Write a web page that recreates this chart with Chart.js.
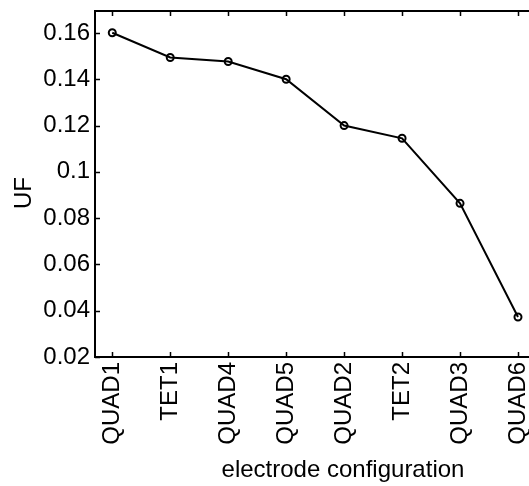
<!DOCTYPE html>
<html>
<head>
<meta charset="utf-8">
<script src="https://cdn.jsdelivr.net/npm/chart.js@4"></script>
<style>
  html, body { margin: 0; padding: 0; background: #fff; }
  #wrap { width: 529px; height: 486px; }
</style>
</head>
<body>
<div id="wrap"><canvas id="chart" width="529" height="486"></canvas></div>
<script>
  "use strict";

  // Data
  const configs = ['QUAD1', 'TET1', 'QUAD4', 'QUAD5', 'QUAD2', 'TET2', 'QUAD3', 'QUAD6'];
  const ufValues = [0.1601, 0.1494, 0.1477, 0.1400, 0.1200, 0.1145, 0.0864, 0.0373];
  const yTicks = [0.02, 0.04, 0.06, 0.08, 0.1, 0.12, 0.14, 0.16];

  const FONT = '"Liberation Sans", Arial, sans-serif';

  // Frame, inward ticks and axis titles
  const framePlugin = {
    id: 'frame',
    afterDraw(chart) {
      const ctx = chart.ctx;
      const a = chart.chartArea;
      const x = chart.scales.x;
      const y = chart.scales.y;
      ctx.save();
      ctx.strokeStyle = '#000';
      ctx.lineWidth = 2;
      ctx.beginPath();
      ctx.moveTo(a.right + 2, a.top);
      ctx.lineTo(a.left, a.top);
      ctx.lineTo(a.left, a.bottom);
      ctx.lineTo(a.right + 2, a.bottom);
      ctx.stroke();

      ctx.lineWidth = 1.5;
      ctx.beginPath();
      configs.forEach((c, i) => {
        const px = Math.round(x.getPixelForValue(i)) + 0.5;
        ctx.moveTo(px, a.bottom);
        ctx.lineTo(px, a.bottom - 5);
        ctx.moveTo(px, a.top);
        ctx.lineTo(px, a.top + 5);
      });
      yTicks.forEach(v => {
        const py = Math.round(y.getPixelForValue(v)) + 0.5;
        ctx.moveTo(a.left, py);
        ctx.lineTo(a.left + 5, py);
      });
      ctx.stroke();

      ctx.fillStyle = '#000';
      ctx.font = '24px ' + FONT;
      ctx.textAlign = 'center';
      ctx.textBaseline = 'middle';
      ctx.fillText('electrode configuration', 343, 470);

      ctx.translate(24, 193);
      ctx.rotate(-Math.PI / 2);
      ctx.fillText('UF', 0, 0);
      ctx.restore();
    }
  };

  new Chart(document.getElementById('chart'), {
    type: 'line',
    data: {
      datasets: [{
        data: ufValues.map((v, i) => ({ x: i, y: v })),
        borderColor: '#000',
        borderWidth: 2,
        pointStyle: 'circle',
        pointRadius: 3.5,
        pointBorderWidth: 2,
        pointBackgroundColor: 'rgba(0,0,0,0)',
        pointBorderColor: '#000',
        tension: 0,
        fill: false
      }]
    },
    options: {
      responsive: false,
      animation: false,
      layout: { autoPadding: false, padding: { top: 11, right: 0, left: 0, bottom: 0 } },
      plugins: {
        legend: { display: false },
        tooltip: { enabled: false }
      },
      scales: {
        x: {
          type: 'linear',
          min: -0.298,
          max: 7.19,
          afterFit(scale) {
            scale.height = 129;
            scale.paddingLeft = 0;
            scale.paddingRight = 0;
          },
          afterBuildTicks(scale) {
            scale.ticks = configs.map((c, i) => ({ value: i }));
          },
          grid: { display: false, drawTicks: false },
          border: { display: false },
          ticks: {
            color: '#000',
            font: { family: FONT, size: 24 },
            minRotation: 90,
            maxRotation: 90,
            padding: 5,
            autoSkip: false,
            callback: v => configs[v]
          }
        },
        y: {
          min: 0.02,
          max: 0.1695,
          afterFit(scale) {
            scale.width = 95;
            scale.paddingTop = 0;
            scale.paddingBottom = 0;
          },
          afterBuildTicks(scale) {
            scale.ticks = yTicks.map(v => ({ value: v }));
          },
          grid: { display: false, drawTicks: false },
          border: { display: false },
          ticks: {
            color: '#000',
            font: { family: FONT, size: 24 },
            padding: 5,
            callback: v => String(Math.round(v * 100) / 100)
          }
        }
      }
    },
    plugins: [framePlugin]
  });
</script>
</body>
</html>
